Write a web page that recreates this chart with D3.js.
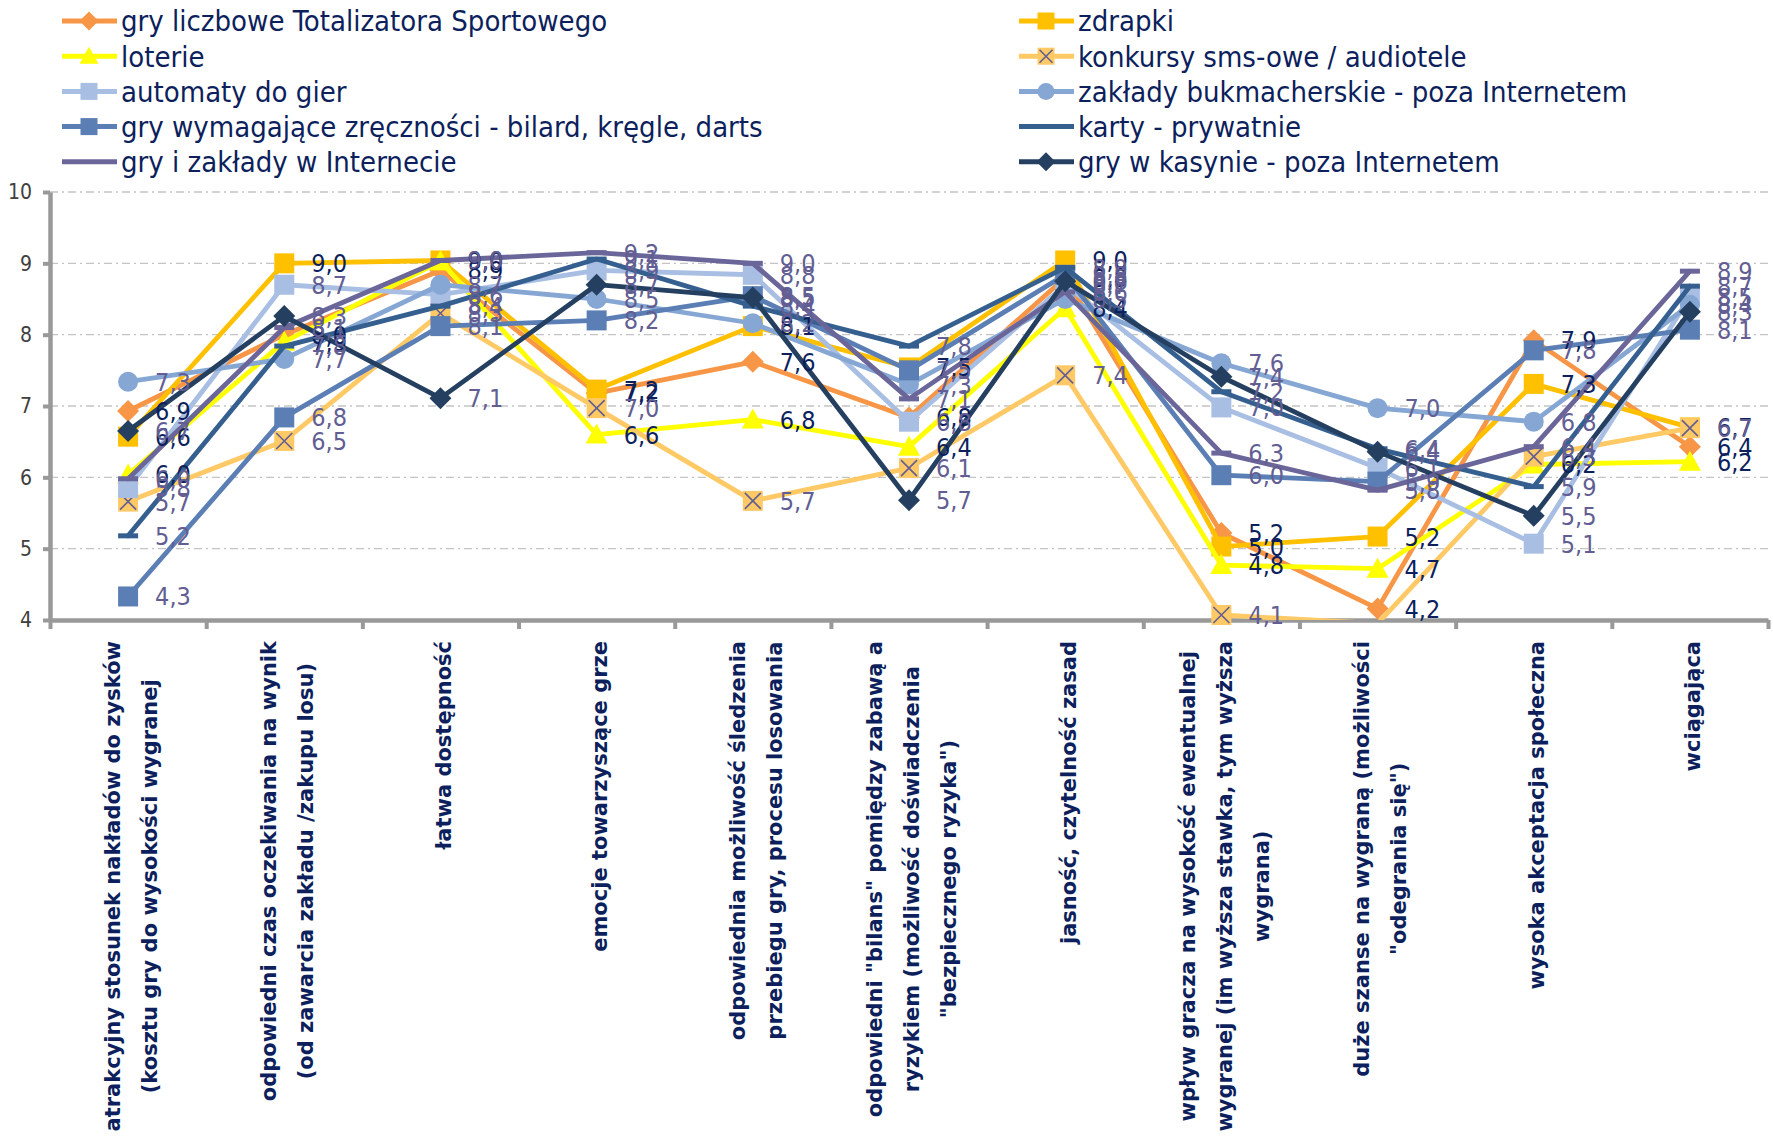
<!DOCTYPE html>
<html>
<head>
<meta charset="utf-8">
<script src="https://cdn.jsdelivr.net/npm/d3@7"></script>
<style>
  html, body { margin: 0; padding: 0; background: #fff; }
  svg { display: block; }
  .cond { font-family: "DejaVu Sans Condensed", "DejaVu Sans", sans-serif; font-stretch: condensed; }
</style>
</head>
<body>
<svg id="chart" width="1773" height="1144"></svg>
<script>
// categories (x axis labels, already broken into lines)
var categoryLines = [
    ['atrakcyjny stosunek nakładów do zysków', '(kosztu gry do wysokości wygranej'],
    ['odpowiedni czas oczekiwania na wynik', '(od zawarcia zakładu /zakupu losu)'],
    ['łatwa dostępność'],
    ['emocje towarzyszące grze'],
    ['odpowiednia możliwość śledzenia', 'przebiegu gry, procesu losowania'],
    ['odpowiedni "bilans" pomiędzy zabawą a', 'ryzykiem (możliwość doświadczenia', '"bezpiecznego ryzyka")'],
    ['jasność, czytelność zasad'],
    ['wpływ gracza na wysokość ewentualnej', 'wygranej (im wyższa stawka, tym wyższa', 'wygrana)'],
    ['duże szanse na wygraną (możliwości', '"odegrania się")'],
    ['wysoka akceptacja społeczna'],
    ['wciągająca']
];

var seriesNames = [
    'gry liczbowe Totalizatora Sportowego',
    'zdrapki',
    'loterie',
    'konkursy sms-owe / audiotele',
    'automaty do gier',
    'zakłady bukmacherskie - poza Internetem',
    'gry wymagające zręczności - bilard, kręgle, darts',
    'karty - prywatnie',
    'gry i zakłady w Internecie',
    'gry w kasynie - poza Internetem'
];

// values per series, one per category
var totalizator = [6.93, 8.0, 8.9, 7.18, 7.62, 6.84, 8.8, 5.22, 4.16, 7.92, 6.43];
var zdrapki = [6.57, 9.0, 9.04, 7.23, 8.12, 7.54, 9.04, 5.03, 5.17, 7.31, 6.7];
var loterie = [6.04, 7.9, 9.03, 6.6, 6.81, 6.43, 8.37, 4.77, 4.72, 6.18, 6.22];
var konkursy = [5.66, 6.51, 8.3, 6.97, 5.67, 6.13, 7.43, 4.07, 3.95, 6.29, 6.69];
var automaty = [5.85, 8.7, 8.56, 8.9, 8.84, 6.78, 8.7, 6.98, 6.13, 5.07, 8.53];
var bukmacherskie = [7.34, 7.66, 8.7, 8.5, 8.16, 7.3, 8.5, 7.6, 6.97, 6.78, 8.42];
var zrecznosciowe = [4.33, 6.84, 8.12, 8.2, 8.54, 7.5, 8.84, 6.03, 5.94, 7.78, 8.07];
var karty = [5.18, 7.84, 8.4, 9.06, 8.4, 7.84, 8.94, 7.2, 6.4, 5.87, 8.68];
var internet = [5.98, 8.1, 9.04, 9.15, 9.0, 7.1, 8.6, 6.34, 5.82, 6.43, 8.89];
var kasyno = [6.65, 8.26, 7.11, 8.7, 8.52, 5.68, 8.75, 7.41, 6.36, 5.46, 8.32];

var yTicks = [4, 5, 6, 7, 8, 9, 10];

var seriesValues = [totalizator, zdrapki, loterie, konkursy, automaty,
    bukmacherskie, zrecznosciowe, karty, internet, kasyno];
var seriesColors = ['#F79646', '#FFC000', '#FFFF00', '#FFC965', '#A8BEE3',
    '#86A7D3', '#5B7EB4', '#355F8F', '#6B6699', '#243F60'];
var seriesMarkers = ['diamond', 'square', 'triangle', 'cross', 'square',
    'circle', 'square', 'dash', 'dash', 'diamond'];
var labelColors = ['#0D1F5C', '#0D1F5C', '#0D1F5C', '#625E93', '#625E93',
    '#625E93', '#625E93', '#625E93', '#625E93', '#625E93'];

var series = seriesNames.map(function (name, i) {
    return {name: name, values: seriesValues[i], color: seriesColors[i],
        marker: seriesMarkers[i], labelColor: labelColors[i]};
});

var plotLeft = 50, plotRight = 1768, plotTop = 192, plotBottom = 620;
var svg = d3.select('#chart');

var x = d3.scaleBand().domain(d3.range(categoryLines.length)).range([plotLeft, plotRight]).padding(0);
var xEdges = d3.scaleLinear().domain([0, categoryLines.length]).range([plotLeft, plotRight]);
var y = d3.scaleLinear().domain([4, 10]).range([plotBottom, plotTop]);
var cx = function (i) { return x(i) + x.bandwidth() / 2; };

// gridlines
svg.append('g')
    .selectAll('line')
    .data(yTicks.slice(1))
    .join('line')
    .attr('x1', plotLeft).attr('x2', plotRight)
    .attr('y1', function (d) { return y(d); })
    .attr('y2', function (d) { return y(d); })
    .attr('stroke', '#C4C4C4')
    .attr('stroke-width', 1.3)
    .attr('stroke-dasharray', '8,4,2,4');

// axes
var yAxis = svg.append('g')
    .attr('transform', 'translate(' + plotLeft + ',0)')
    .call(d3.axisLeft(y).tickValues(yTicks).tickFormat(d3.format('d'))
        .tickSize(7).tickSizeOuter(0).tickPadding(11));
var xAxis = svg.append('g')
    .attr('transform', 'translate(0,' + plotBottom + ')')
    .call(d3.axisBottom(xEdges).tickValues(d3.range(categoryLines.length + 1))
        .tickSize(9).tickSizeOuter(0).tickFormat(''));
[yAxis, xAxis].forEach(function (ax) {
    ax.select('.domain').attr('stroke', '#999999').attr('stroke-width', 4.5);
    ax.selectAll('.tick line').attr('stroke', '#999999').attr('stroke-width', 4);
});
yAxis.selectAll('.tick text')
    .attr('class', 'cond')
    .attr('font-size', 21)
    .attr('fill', '#404040');

// category labels, rotated, lines centred inside block whose end sits under the axis
var labelTop = 641, lineGap = 37;
categoryLines.forEach(function (lines, i) {
    var g = svg.append('g');
    var texts = lines.map(function (line, j) {
        var lx = cx(i) + 3 + (j - (lines.length - 1) / 2) * lineGap;
        return g.append('text')
            .attr('font-family', 'DejaVu Sans, sans-serif')
            .attr('font-weight', 'bold')
            .attr('font-size', 21)
            .attr('fill', '#0D1F5C')
            .attr('text-anchor', 'middle')
            .attr('dy', '0.35em')
            .attr('data-x', lx)
            .text(line);
    });
    var maxLen = d3.max(texts, function (t) { return t.node().getComputedTextLength(); });
    texts.forEach(function (t) {
        var lx = +t.attr('data-x');
        var ly = labelTop + maxLen / 2;
        t.attr('transform', 'translate(' + lx + ',' + ly + ') rotate(-90)');
    });
});

// markers
function drawMarker(g, type, color, px, py, s) {
    var h = s / 2;
    if (type === 'diamond') {
        g.append('path')
            .attr('d', 'M' + px + ',' + (py - h - 1) + 'L' + (px + h + 1) + ',' + py + 'L' + px + ',' + (py + h + 1) + 'L' + (px - h - 1) + ',' + py + 'Z')
            .attr('fill', color);
    } else if (type === 'square') {
        g.append('rect').attr('x', px - h).attr('y', py - h).attr('width', s).attr('height', s).attr('fill', color);
    } else if (type === 'circle') {
        g.append('circle').attr('cx', px).attr('cy', py).attr('r', h).attr('fill', color);
    } else if (type === 'triangle') {
        g.append('path')
            .attr('d', 'M' + px + ',' + (py - h - 1) + 'L' + (px + h + 1) + ',' + (py + h - 1) + 'L' + (px - h - 1) + ',' + (py + h - 1) + 'Z')
            .attr('fill', color);
    } else if (type === 'dash') {
        g.append('rect').attr('x', px - h).attr('y', py - 2.5).attr('width', s).attr('height', 5).attr('fill', color);
    } else if (type === 'cross') {
        g.append('rect').attr('x', px - h).attr('y', py - h).attr('width', s).attr('height', s).attr('fill', color);
        var c = h - 2;
        g.append('path')
            .attr('d', 'M' + (px - c) + ',' + (py - c) + 'L' + (px + c) + ',' + (py + c) + 'M' + (px + c) + ',' + (py - c) + 'L' + (px - c) + ',' + (py + c))
            .attr('stroke', '#625E93').attr('stroke-width', 1.6).attr('fill', 'none');
    }
}

svg.append('clipPath').attr('id', 'plotClip')
    .append('rect').attr('x', plotLeft).attr('y', plotTop - 20)
    .attr('width', plotRight - plotLeft).attr('height', plotBottom - plotTop + 20);

var line = d3.line()
    .x(function (d, i) { return cx(i); })
    .y(function (d) { return y(d); });

var plot = svg.append('g');
series.forEach(function (s) {
    var g = plot.append('g');
    g.append('path')
        .datum(s.values)
        .attr('d', line)
        .attr('clip-path', 'url(#plotClip)')
        .attr('fill', 'none')
        .attr('stroke', s.color)
        .attr('stroke-width', 4.8)
        .attr('stroke-linejoin', 'round')
        .attr('stroke-linecap', 'round');
    s.values.forEach(function (v, i) {
        if (v < 4) return;
        drawMarker(g, s.marker, s.color, cx(i), y(v), 20);
    });
});

// data labels
var labels = svg.append('g');
series.forEach(function (s) {
    s.values.forEach(function (v, i) {
        if (v < 4) return;
        labels.append('text')
            .attr('class', 'cond')
            .attr('x', cx(i) + 27)
            .attr('y', y(v))
            .attr('dy', '0.36em')
            .attr('font-size', 25)
            .attr('fill', s.labelColor)
            .text(v.toFixed(1).replace('.', ','));
    });
});

// legend, two columns
var legendCols = [{sx: 62, tx: 121}, {sx: 1019, tx: 1078}];
var legend = svg.append('g');
series.forEach(function (s, i) {
    var col = legendCols[i % 2];
    var ly = 21 + Math.floor(i / 2) * 35.2;
    var g = legend.append('g');
    g.append('line')
        .attr('x1', col.sx).attr('x2', col.sx + 55)
        .attr('y1', ly).attr('y2', ly)
        .attr('stroke', s.color).attr('stroke-width', 5);
    if (s.marker !== 'dash') drawMarker(g, s.marker, s.color, col.sx + 27, ly, 17);
    g.append('text')
        .attr('class', 'cond')
        .attr('x', col.tx)
        .attr('y', ly)
        .attr('dy', '0.36em')
        .attr('font-size', 29)
        .attr('fill', '#0D1F5C')
        .text(s.name);
});
</script>
</body>
</html>
